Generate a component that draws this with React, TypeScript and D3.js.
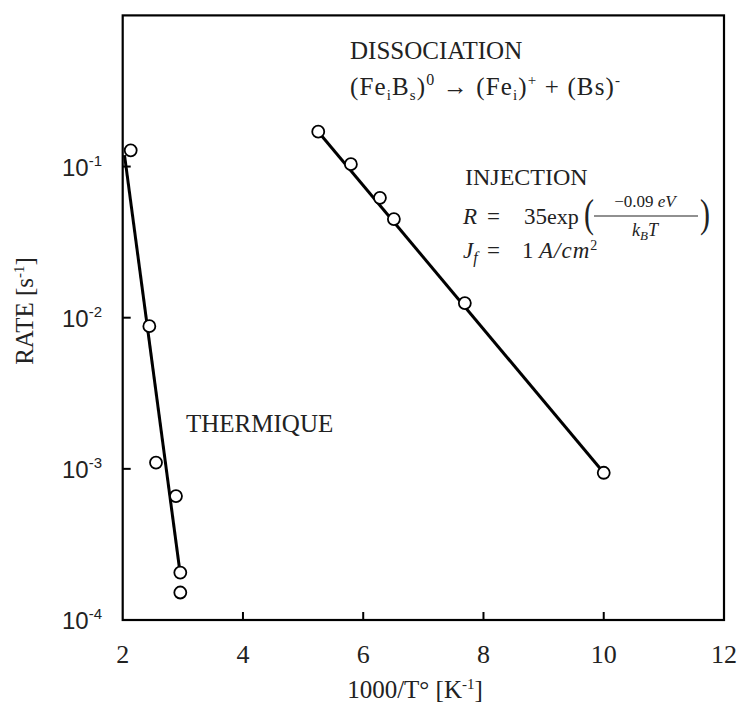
import React from "react";
import * as d3 from "d3";

const thermX = [2.133, 2.443, 2.554, 2.886, 2.958, 2.958];
const thermY = [0.128, 0.00879, 0.0011, 0.000661, 0.000206, 0.000152];
const thermFitX = [2.03, 2.953];
const thermFitY = [0.119, 0.000207];
const injX = [5.252, 5.795, 6.278, 6.51, 7.69, 10.0];
const injY = [0.17, 0.1037, 0.0621, 0.0449, 0.0125, 0.000942];
const xTicks = [2, 4, 6, 8, 10, 12];
const yExps = [-4, -3, -2, -1, 0];
const yLabelExps = [-4, -3, -2, -1];

const W = 742, H = 708;
const L = 122.7, R = 724, T = 15.4, B = 620;
const serif = "'Liberation Serif', 'Times New Roman', serif";
const sans = "'Liberation Sans', Arial, sans-serif";

export default function App() {
  const x = d3.scaleLinear().domain([2, 12]).range([L, R]);
  const y = d3.scaleLog().domain([1e-4, 1]).range([B, T]);
  const line = d3.line<[number, number]>().x(d => x(d[0])).y(d => y(d[1]));
  const therm = thermX.map((v, i) => [v, thermY[i]] as [number, number]);
  const thermFit = thermFitX.map((v, i) => [v, thermFitY[i]] as [number, number]);
  const inj = injX.map((v, i) => [v, injY[i]] as [number, number]);

  return (
    <svg width={W} height={H} style={{ position: "absolute", left: 0, top: 0, background: "#fff" }}>
      <rect x={0} y={0} width={W} height={H} fill="#fff" />
      {/* ticks */}
      {xTicks.slice(1, -1).map(t => (
        <line key={"xt" + t} x1={x(t)} x2={x(t)} y1={B} y2={B - 8} stroke="#000" strokeWidth={2} />
      ))}
      {yExps.slice(1, -1).map(e => (
        <line key={"yt" + e} x1={L} x2={L + 8} y1={y(Math.pow(10, e))} y2={y(Math.pow(10, e))} stroke="#000" strokeWidth={2} />
      ))}
      <rect x={L} y={T} width={R - L} height={B - T} fill="none" stroke="#000" strokeWidth={2.2} />
      {/* x tick labels */}
      {xTicks.map(t => (
        <text key={"xl" + t} x={x(t)} y={663} textAnchor="middle" fontFamily={serif} fontSize={26} fill="#222">{t}</text>
      ))}
      {/* y tick labels */}
      {yLabelExps.map(e => (
        <text key={"yl" + e} x={102} y={y(Math.pow(10, e)) + 9} textAnchor="end" fontFamily={sans} fontSize={24} fill="#222">
          10<tspan dy={-10} fontSize={15}>{e}</tspan>
        </text>
      ))}
      {/* axis titles */}
      <text x={415} y={698} textAnchor="middle" fontFamily={serif} fontSize={25} fill="#222">
        1000/T° [K<tspan dy={-9} fontSize={15}>-1</tspan><tspan dy={9}>]</tspan>
      </text>
      <text transform="translate(33,311) rotate(-90)" textAnchor="middle" fontFamily={serif} fontSize={25} fill="#222">
        RATE [s<tspan dy={-9} fontSize={15}>-1</tspan><tspan dy={9}>]</tspan>
      </text>
      {/* lines */}
      <path d={line(thermFit) || ""} fill="none" stroke="#000" strokeWidth={3} />
      <path d={line([inj[0], inj[inj.length - 1]]) || ""} fill="none" stroke="#000" strokeWidth={3} />
      {therm.map((d, i) => (
        <circle key={"tc" + i} cx={x(d[0])} cy={y(d[1])} r={6} fill="#fff" stroke="#000" strokeWidth={1.8} />
      ))}
      {inj.map((d, i) => (
        <circle key={"ic" + i} cx={x(d[0])} cy={y(d[1])} r={6} fill="#fff" stroke="#000" strokeWidth={1.8} />
      ))}
      {/* annotations */}
      <text x={186} y={432} fontFamily={serif} fontSize={25} fill="#222">THERMIQUE</text>
      <text x={350} y={59} fontFamily={serif} fontSize={25} fill="#222">DISSOCIATION</text>
      <text x={350} y={95} fontFamily={serif} fontSize={25} fill="#222" xmlSpace="preserve" textLength={270} lengthAdjust="spacing">
        (Fe<tspan dy={5} fontSize={15}>i</tspan><tspan dy={-5}>B</tspan><tspan dy={5} fontSize={15}>s</tspan><tspan dy={-5}>)</tspan><tspan dy={-10} fontSize={16}>0</tspan><tspan dy={10}> → (Fe</tspan><tspan dy={5} fontSize={15}>i</tspan><tspan dy={-5}>)</tspan><tspan dy={-10} fontSize={15}>+</tspan><tspan dy={10}> + (Bs)</tspan><tspan dy={-10} fontSize={15}>-</tspan>
      </text>
      <text x={465} y={185} fontFamily={serif} fontSize={24} fill="#222">INJECTION</text>
      {/* formula R */}
      <g fontFamily={serif} fill="#222">
        <text x={463} y={224} fontSize={23} fontStyle="italic">R</text>
        <text x={487} y={224} fontSize={23}>=</text>
        <text x={524} y={224} fontSize={23}>35</text>
        <text x={547} y={224} fontSize={22}>exp</text>
        <text transform="translate(584,227) scale(1,1.3)" fontSize={30}>(</text>
        <text x={645} y={207} fontSize={17} textAnchor="middle">−0.09 <tspan fontStyle="italic">eV</tspan></text>
        <line x1={594} x2={698} y1={216} y2={216} stroke="#222" strokeWidth={1.2} />
        <text x={645} y={236} fontSize={18} textAnchor="middle" fontStyle="italic">k<tspan dy={4} fontSize={13}>B</tspan><tspan dy={-4}>T</tspan></text>
        <text transform="translate(700,227) scale(1,1.3)" fontSize={30}>)</text>
        <text x={463} y={258} fontSize={23} fontStyle="italic">J<tspan dy={5} fontSize={16}>f</tspan></text>
        <text x={487} y={258} fontSize={23}>=</text>
        <text x={522} y={258} fontSize={23}>1</text>
        <text x={539} y={258} fontSize={23} fontStyle="italic" letterSpacing={1}>A/cm<tspan dy={-8} fontSize={14} fontStyle="normal">2</tspan></text>
      </g>
    </svg>
  );
}
